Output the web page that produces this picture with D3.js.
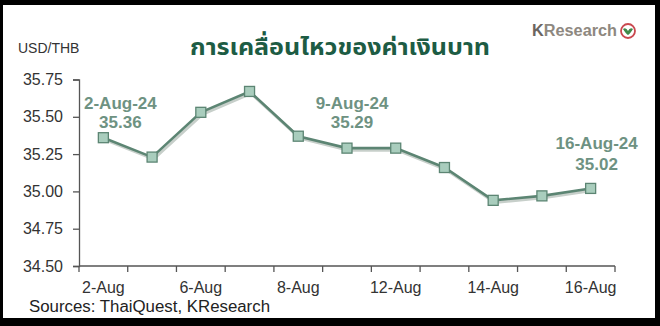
<!DOCTYPE html>
<html>
<head>
<meta charset="utf-8">
<script src="https://cdn.jsdelivr.net/npm/d3@7"></script>
<style>
  body { margin: 0; background: #000; }
  svg { display: block; font-family: "Liberation Sans", Arial, sans-serif; }
</style>
</head>
<body>
<div id="chart"></div>
<script>
const categories = ['2-Aug', '5-Aug', '6-Aug', '7-Aug', '8-Aug', '9-Aug', '12-Aug', '13-Aug', '14-Aug', '15-Aug', '16-Aug']
const rates = [35.36, 35.23, 35.53, 35.67, 35.37, 35.29, 35.29, 35.16, 34.94, 34.97, 35.02]
const yTicks = [34.50, 34.75, 35.00, 35.25, 35.50, 35.75]
const xTickLabels = ['2-Aug', '6-Aug', '8-Aug', '12-Aug', '14-Aug', '16-Aug']
const callouts = [
  { index: 0, date: '2-Aug-24', value: '35.36' },
  { index: 5, date: '9-Aug-24', value: '35.29' },
  { index: 10, date: '16-Aug-24', value: '35.02' }
]

const W = 660, H = 326
const margin = { top: 79.5, right: 45, bottom: 60, left: 79 }
const width = W - margin.left - margin.right
const height = H - margin.top - margin.bottom

const lineColor = '#5c8573'
const labelColor = '#6e9282'

const svg = d3.select('#chart')
  .append('svg')
  .attr('width', W)
  .attr('height', H)

// Black frame with white panel
svg.append('rect').attr('width', W).attr('height', H).attr('fill', '#000')
svg.append('rect')
  .attr('x', 3).attr('y', 5)
  .attr('width', 652).attr('height', 313)
  .attr('fill', '#fff')

// Title
svg.append('text')
  .attr('x', 340)
  .attr('y', 55)
  .attr('text-anchor', 'middle')
  .attr('font-family', '"Noto Sans Thai", "Noto Sans", "DejaVu Sans", sans-serif')
  .attr('font-weight', 'bold')
  .attr('font-size', 23)
  .attr('fill', '#1d5c44')
  .attr('textLength', 300)
  .attr('lengthAdjust', 'spacingAndGlyphs')
  .text('การเคลื่อนไหวของค่าเงินบาท')

// Logo text
const logo = svg.append('text')
  .attr('x', 532)
  .attr('y', 36)
  .attr('font-weight', 'bold')
  .attr('font-size', 16)
  .attr('fill', '#8e8880')
  .attr('textLength', 85)
  .attr('lengthAdjust', 'spacingAndGlyphs')
logo.append('tspan').attr('fill', '#6b6560').text('K')
logo.append('tspan').text('Research')
svg.append('circle')
  .attr('cx', 628).attr('cy', 31).attr('r', 7)
  .attr('fill', '#fff')
  .attr('stroke', '#c9484f')
  .attr('stroke-width', 1.8)
svg.append('path')
  .attr('d', 'M623,29 Q626,27 628,31 Q630,27 633,29 Q630,34 628,35 Q626,34 623,29 Z')
  .attr('fill', '#3f8a4a')

// Unit label
svg.append('text')
  .attr('x', 18)
  .attr('y', 53)
  .attr('font-size', 14)
  .attr('fill', '#333')
  .text('USD/THB')

const g = svg.append('g')
  .attr('transform', `translate(${margin.left},${margin.top})`)

const x = d3.scaleBand()
  .domain(categories)
  .range([0, width])

const y = d3.scaleLinear()
  .domain([34.5, 35.75])
  .range([height, 0])

// Y axis
g.append('g')
  .call(d3.axisLeft(y).tickValues(yTicks).tickFormat(d3.format('.2f')).tickSize(6).tickPadding(10))
  .call(a => a.select('.domain').attr('stroke', '#555').attr('stroke-width', 1.3))
  .call(a => a.selectAll('.tick line').attr('stroke', '#555').attr('stroke-width', 1.3))
  .call(a => a.selectAll('.tick text')
    .attr('font-size', 16)
    .attr('font-family', '"Liberation Sans", Arial, sans-serif')
    .attr('fill', '#333'))

// X axis: ticks at band boundaries, labels on every other category
const xAxisG = g.append('g')
  .attr('transform', `translate(0,${height})`)
xAxisG.append('line')
  .attr('x1', 0).attr('x2', width)
  .attr('stroke', '#555').attr('stroke-width', 1.3)
xAxisG.selectAll('line.tick')
  .data(d3.range(categories.length + 1))
  .join('line')
  .attr('class', 'tick')
  .attr('x1', i => i < categories.length ? x(categories[i]) : width)
  .attr('x2', i => i < categories.length ? x(categories[i]) : width)
  .attr('y1', 0).attr('y2', 6)
  .attr('stroke', '#555').attr('stroke-width', 1.3)
xAxisG.selectAll('text')
  .data(xTickLabels)
  .join('text')
  .attr('x', d => x(d) + x.bandwidth() / 2)
  .attr('y', 27)
  .attr('text-anchor', 'middle')
  .attr('font-size', 16)
  .attr('fill', '#333')
  .text(d => d)

const cx = i => x(categories[i]) + x.bandwidth() / 2

// Line shadow
const line = d3.line()
  .x((d, i) => cx(i))
  .y(d => y(d))

g.append('path')
  .datum(rates)
  .attr('fill', 'none')
  .attr('stroke', '#c7cfca')
  .attr('stroke-width', 3)
  .attr('transform', 'translate(1.5,2)')
  .attr('d', line)

g.append('path')
  .datum(rates)
  .attr('fill', 'none')
  .attr('stroke', lineColor)
  .attr('stroke-width', 2.6)
  .attr('d', line)

// Square markers
g.selectAll('rect.marker')
  .data(rates)
  .join('rect')
  .attr('class', 'marker')
  .attr('x', (d, i) => cx(i) - 5)
  .attr('y', d => y(d) - 5)
  .attr('width', 10)
  .attr('height', 10)
  .attr('fill', '#a9cdbd')
  .attr('stroke', lineColor)
  .attr('stroke-width', 1.3)

// Callouts (two separate text lines each)
const calloutOffsets = [
  { dx: 17, dy1: -29, dy2: -10 },
  { dx: 5, dy1: -39, dy2: -20 },
  { dx: 6, dy1: -39, dy2: -18 }
]
callouts.forEach((c, k) => {
  const off = calloutOffsets[k]
  const px = cx(c.index) + off.dx
  const py = y(rates[c.index])
  g.append('text')
    .attr('x', px)
    .attr('y', py + off.dy1)
    .attr('text-anchor', 'middle')
    .attr('font-weight', 'bold')
    .attr('font-size', 17)
    .attr('fill', labelColor)
    .text(c.date)
  g.append('text')
    .attr('x', px)
    .attr('y', py + off.dy2)
    .attr('text-anchor', 'middle')
    .attr('font-weight', 'bold')
    .attr('font-size', 17)
    .attr('fill', labelColor)
    .text(c.value)
})

// Source note
svg.append('text')
  .attr('x', 29)
  .attr('y', 312)
  .attr('font-size', 16)
  .attr('fill', '#222')
  .attr('textLength', 241)
  .attr('lengthAdjust', 'spacingAndGlyphs')
  .text('Sources: ThaiQuest, KResearch')
</script>
</body>
</html>
